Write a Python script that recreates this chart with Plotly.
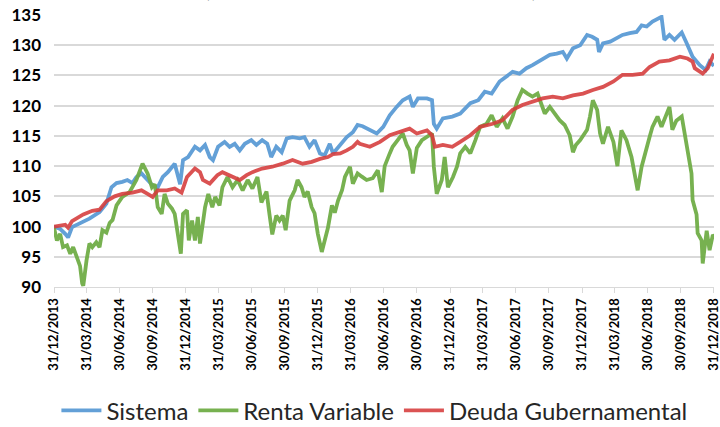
import plotly.graph_objects as go

# ---- Data ----
sistema_dates = [
    "2013-12-31", "2014-01-17", "2014-01-31", "2014-02-08", "2014-02-19", "2014-03-13", "2014-04-08",
    "2014-05-06", "2014-05-25", "2014-06-08", "2014-06-22", "2014-07-08", "2014-07-22", "2014-08-05",
    "2014-08-16", "2014-08-30", "2014-09-16", "2014-09-30", "2014-10-14", "2014-10-28", "2014-11-11",
    "2014-11-30", "2014-12-15", "2014-12-23", "2015-01-06", "2015-01-25", "2015-02-08", "2015-02-22",
    "2015-03-07", "2015-03-16", "2015-03-30", "2015-04-17", "2015-05-01", "2015-05-15", "2015-05-29",
    "2015-06-12", "2015-06-30", "2015-07-14", "2015-07-30", "2015-08-13", "2015-08-24", "2015-09-07",
    "2015-09-22", "2015-10-06", "2015-10-22", "2015-11-11", "2015-11-24", "2015-12-08", "2015-12-22",
    "2016-01-06", "2016-01-19", "2016-02-02", "2016-02-11", "2016-03-02", "2016-03-20", "2016-04-06",
    "2016-04-19", "2016-05-03", "2016-05-23", "2016-06-11", "2016-06-29", "2016-07-17", "2016-08-05",
    "2016-08-22", "2016-09-10", "2016-09-19", "2016-10-03", "2016-10-28", "2016-11-11", "2016-11-16",
    "2016-11-24", "2016-12-11", "2017-01-06", "2017-01-28", "2017-02-25", "2017-03-19", "2017-04-06",
    "2017-04-25", "2017-05-17", "2017-06-05", "2017-06-22", "2017-07-11", "2017-07-30", "2017-08-16",
    "2017-09-10", "2017-10-03", "2017-10-22", "2017-11-08", "2017-11-19", "2017-12-06", "2017-12-26",
    "2018-01-14", "2018-01-28", "2018-02-11", "2018-02-16", "2018-02-27", "2018-03-19", "2018-04-06",
    "2018-04-22", "2018-05-12", "2018-05-31", "2018-06-14", "2018-06-28", "2018-07-14", "2018-08-08",
    "2018-08-16", "2018-08-30", "2018-09-13", "2018-10-03", "2018-10-17", "2018-11-02", "2018-11-22",
    "2018-12-08", "2018-12-19", "2018-12-31",
]
sistema_values = [
    100.0, 99.6, 98.8, 98.2, 99.9, 100.6, 101.3,
    102.4, 103.8, 106.5, 107.2, 107.4, 107.7, 107.2,
    108.2, 108.8, 107.8, 106.8, 106.5, 108.2, 109.0,
    110.4, 107.0, 111.0, 111.5, 113.2, 112.6, 113.5,
    111.5, 111.0, 113.2, 114.0, 113.2, 113.7, 112.6,
    113.7, 114.3, 113.5, 114.3, 113.7, 111.5, 113.2,
    112.3, 114.6, 114.8, 114.6, 114.8, 113.2, 114.3,
    112.1, 111.8, 113.7, 112.1, 113.5, 114.8, 115.6,
    116.8, 116.6, 116.0, 115.4, 116.5, 118.4, 119.8,
    120.9, 121.5, 119.8, 121.2, 121.2, 120.9, 117.0,
    116.2, 117.9, 118.2, 118.7, 120.4, 120.9, 122.3,
    122.0, 124.0, 124.8, 125.6, 125.3, 126.2, 126.7,
    127.5, 128.4, 128.6, 128.9, 127.8, 129.5, 130.0,
    131.7, 131.4, 130.9, 128.9, 130.3, 130.6, 131.1,
    131.7, 132.0, 132.2, 133.3, 133.1, 133.9, 134.7,
    130.9, 131.7, 130.9, 132.1, 130.3, 128.1, 126.7,
    125.9, 127.3, 126.6,
]

renta_dates = [
    "2013-12-31", "2014-01-08", "2014-01-17", "2014-01-25", "2014-02-05", "2014-02-14", "2014-02-22",
    "2014-03-05", "2014-03-13", "2014-03-19", "2014-03-22", "2014-03-31", "2014-04-08", "2014-04-16",
    "2014-04-27", "2014-05-06", "2014-05-14", "2014-05-25", "2014-06-03", "2014-06-11", "2014-06-17",
    "2014-06-22", "2014-07-08", "2014-07-28", "2014-08-16", "2014-09-02", "2014-09-16", "2014-09-28",
    "2014-10-06", "2014-10-14", "2014-10-25", "2014-11-02", "2014-11-11", "2014-11-22", "2014-11-30",
    "2014-12-08", "2014-12-17", "2014-12-23", "2015-01-03", "2015-01-08", "2015-01-17", "2015-01-25",
    "2015-02-02", "2015-02-08", "2015-02-22", "2015-03-03", "2015-03-14", "2015-03-22", "2015-04-03",
    "2015-04-11", "2015-04-25", "2015-05-09", "2015-05-23", "2015-06-06", "2015-06-20", "2015-07-03",
    "2015-07-17", "2015-07-28", "2015-08-11", "2015-08-19", "2015-08-27", "2015-09-07", "2015-09-16",
    "2015-09-25", "2015-10-03", "2015-10-14", "2015-10-28", "2015-11-05", "2015-11-16", "2015-11-24",
    "2015-12-03", "2015-12-14", "2015-12-22", "2015-12-31", "2016-01-11", "2016-01-19", "2016-01-28",
    "2016-02-08", "2016-02-16", "2016-02-25", "2016-03-07", "2016-03-15", "2016-03-29", "2016-04-06",
    "2016-04-19", "2016-04-30", "2016-05-14", "2016-05-31", "2016-06-14", "2016-06-25", "2016-07-03",
    "2016-07-17", "2016-07-25", "2016-08-08", "2016-08-22", "2016-09-02", "2016-09-10", "2016-09-19",
    "2016-09-30", "2016-10-14", "2016-10-28", "2016-11-11", "2016-11-16", "2016-11-24", "2016-12-08",
    "2016-12-16", "2016-12-25", "2017-01-08", "2017-01-19", "2017-01-28", "2017-02-11", "2017-02-25",
    "2017-03-11", "2017-03-24", "2017-04-11", "2017-04-25", "2017-05-09", "2017-05-17", "2017-05-25",
    "2017-06-08", "2017-06-22", "2017-07-06", "2017-07-19", "2017-08-02", "2017-08-16", "2017-08-30",
    "2017-09-10", "2017-09-19", "2017-10-03", "2017-10-17", "2017-10-30", "2017-11-13", "2017-11-27",
    "2017-12-06", "2017-12-14", "2017-12-26", "2018-01-14", "2018-01-22", "2018-01-30", "2018-02-11",
    "2018-02-19", "2018-02-27", "2018-03-13", "2018-03-28", "2018-04-08", "2018-04-19", "2018-05-03",
    "2018-05-17", "2018-05-25", "2018-06-03", "2018-06-14", "2018-06-22", "2018-07-06", "2018-07-14",
    "2018-07-28", "2018-08-08", "2018-08-16", "2018-08-30", "2018-09-07", "2018-09-18", "2018-10-03",
    "2018-10-11", "2018-10-19", "2018-10-30", "2018-11-02", "2018-11-13", "2018-11-16", "2018-11-27",
    "2018-11-30", "2018-12-11", "2018-12-19", "2018-12-28", "2018-12-31",
]
renta_values = [
    99.8, 97.7, 98.8, 96.6, 96.9, 95.5, 96.6,
    94.8, 93.5, 90.6, 90.2, 94.4, 97.2, 96.6,
    97.4, 96.6, 99.4, 99.0, 100.6, 101.1, 102.5,
    103.5, 104.9, 105.7, 107.7, 110.4, 108.8, 106.5,
    107.0, 103.2, 102.1, 105.4, 103.8, 103.0, 102.1,
    99.4, 95.5, 102.1, 102.7, 97.7, 101.0, 97.7,
    101.6, 97.2, 103.2, 105.4, 103.2, 104.9, 103.5,
    106.5, 108.2, 106.5, 107.7, 106.0, 107.7, 106.3,
    108.2, 104.0, 105.8, 102.1, 98.7, 101.8, 101.0,
    101.8, 99.4, 104.3, 106.0, 107.7, 106.5, 104.9,
    105.8, 103.2, 102.2, 98.8, 95.8, 97.7, 99.8,
    103.5, 102.3, 104.3, 106.0, 108.2, 109.9, 107.1,
    108.8, 108.3, 107.7, 108.0, 109.3, 105.7, 110.0,
    112.1, 113.2, 114.3, 115.4, 113.5, 112.6, 108.8,
    113.0, 114.3, 114.8, 115.4, 109.9, 105.4, 107.7,
    111.5, 106.5, 108.2, 109.9, 112.1, 113.2, 112.1,
    114.3, 116.5, 117.0, 118.4, 116.5, 117.3, 117.9,
    116.2, 118.2, 120.9, 122.6, 122.0, 121.5, 122.0,
    120.4, 118.7, 119.8, 118.7, 117.6, 116.8, 115.1,
    112.3, 113.5, 114.3, 116.0, 118.2, 120.9, 119.3,
    115.4, 113.7, 116.5, 114.0, 110.0, 115.9, 114.3,
    111.5, 108.8, 106.0, 109.9, 111.5, 114.8, 116.5,
    118.2, 116.5, 117.6, 119.8, 116.0, 117.5, 118.2,
    115.4, 112.6, 108.8, 104.4, 102.0, 98.9, 97.7,
    93.9, 99.3, 96.1, 98.6, 98.4,
]

deuda_dates = [
    "2013-12-31", "2014-01-31", "2014-02-08", "2014-02-19", "2014-03-22", "2014-04-16", "2014-05-06",
    "2014-05-25", "2014-06-17", "2014-07-08", "2014-08-05", "2014-08-30", "2014-09-16", "2014-09-30",
    "2014-10-14", "2014-11-08", "2014-11-30", "2014-12-19", "2015-01-03", "2015-01-25", "2015-02-08",
    "2015-02-16", "2015-03-07", "2015-03-28", "2015-04-11", "2015-05-01", "2015-05-15", "2015-05-29",
    "2015-06-17", "2015-07-03", "2015-07-30", "2015-08-27", "2015-09-25", "2015-10-22", "2015-11-19",
    "2015-12-14", "2016-01-06", "2016-01-28", "2016-02-11", "2016-03-02", "2016-03-20", "2016-04-06",
    "2016-04-19", "2016-04-25", "2016-05-23", "2016-06-20", "2016-07-17", "2016-08-14", "2016-09-10",
    "2016-09-30", "2016-10-28", "2016-11-11", "2016-11-19", "2016-12-11", "2017-01-06", "2017-01-28",
    "2017-02-25", "2017-03-24", "2017-04-28", "2017-05-25", "2017-06-22", "2017-07-19", "2017-08-16",
    "2017-09-13", "2017-10-11", "2017-11-08", "2017-12-06", "2018-01-03", "2018-01-30", "2018-02-27",
    "2018-03-28", "2018-04-22", "2018-05-20", "2018-06-17", "2018-07-06", "2018-08-02", "2018-08-30",
    "2018-09-28", "2018-10-19", "2018-11-02", "2018-11-08", "2018-11-30", "2018-12-14", "2018-12-26",
    "2018-12-31",
]
deuda_values = [
    100.0, 100.3, 99.8, 100.9, 102.0, 102.6, 102.8,
    104.2, 105.0, 105.4, 105.6, 106.0, 105.4, 104.9,
    106.0, 106.0, 106.3, 105.6, 108.2, 109.6, 109.0,
    107.7, 107.1, 108.5, 109.0, 108.5, 108.2, 107.7,
    108.5, 109.0, 109.6, 109.9, 110.4, 111.0, 110.4,
    110.7, 111.2, 111.5, 112.0, 112.1, 112.6, 113.2,
    114.0, 113.7, 113.2, 114.0, 115.1, 115.7, 116.2,
    115.4, 115.9, 115.1, 113.2, 113.5, 113.2, 114.0,
    115.1, 116.5, 117.0, 117.6, 119.3, 120.1, 120.6,
    121.2, 121.5, 121.2, 121.7, 122.0, 122.6, 123.1,
    124.0, 125.1, 125.1, 125.3, 126.4, 127.3, 127.5,
    128.1, 127.8, 127.3, 126.2, 125.3, 126.2, 128.1,
    128.6,
]

tick_dates = [
    "2013-12-31", "2014-03-31", "2014-06-30", "2014-09-30", "2014-12-31",
    "2015-03-31", "2015-06-30", "2015-09-30", "2015-12-31",
    "2016-03-31", "2016-06-30", "2016-09-30", "2016-12-31",
    "2017-03-31", "2017-06-30", "2017-09-30", "2017-12-31",
    "2018-03-31", "2018-06-30", "2018-09-30", "2018-12-31",
]
tick_labels = [
    "31/12/2013", "31/03/2014", "30/06/2014", "30/09/2014", "31/12/2014",
    "31/03/2015", "30/06/2015", "30/09/2015", "31/12/2015",
    "31/03/2016", "30/06/2016", "30/09/2016", "31/12/2016",
    "31/03/2017", "30/06/2017", "30/09/2017", "31/12/2017",
    "31/03/2018", "30/06/2018", "30/09/2018", "31/12/2018",
]
y_ticks = [90, 95, 100, 105, 110, 115, 120, 125, 130, 135]

FONT = "Lato"

fig = go.Figure()
fig.add_trace(go.Scatter(x=sistema_dates, y=sistema_values, mode="lines", name="Sistema",
                         line=dict(color="#5B9BD5", width=3.8), opacity=0.95))
fig.add_trace(go.Scatter(x=renta_dates, y=renta_values, mode="lines", name="Renta Variable",
                         line=dict(color="#70AD47", width=3.8), opacity=0.95))
fig.add_trace(go.Scatter(x=deuda_dates, y=deuda_values, mode="lines", name="Deuda Gubernamental",
                         line=dict(color="#D63B3B", width=3.8), opacity=0.88))

fig.update_layout(
    width=720, height=427,
    margin=dict(l=54, r=6, t=15, b=140, autoexpand=False),
    paper_bgcolor="white", plot_bgcolor="white",
    showlegend=True,
    legend=dict(orientation="h", xref="container", yref="container", x=0.52, y=0.038,
                xanchor="center", yanchor="middle",
                font=dict(family=FONT, size=24, color="#262626"),
                itemwidth=40, tracegroupgap=0),
    annotations=[dict(text="(Índice base 100 = 31 de diciembre de 2013)", xref="paper", yref="paper",
                      x=0.48, y=1.039, xanchor="center", yanchor="bottom", showarrow=False,
                      font=dict(family=FONT, size=17, color="#262626"))],
)
fig.update_xaxes(
    type="date", range=["2013-12-31", "2018-12-31 06:00"], automargin=False,
    tickmode="array", tickvals=tick_dates, ticktext=tick_labels, tickangle=-90,
    tickfont=dict(family=FONT, size=13, color="#000000", weight="bold"),
    ticklabeloverflow="allow",
    ticks="outside", ticklen=5, tickcolor="#d9d9d9",
    showgrid=False, showline=True, linecolor="#d9d9d9", linewidth=1, zeroline=False,
)
fig.update_yaxes(
    range=[90, 135], tickmode="array", tickvals=y_ticks, automargin=False,
    tickfont=dict(family=FONT, size=17, color="#000000", weight="bold"),
    showgrid=True, gridcolor="#d9d9d9", gridwidth=1.5, zeroline=False, showline=False,
    ticks="", ticklabelstandoff=12,
)

fig.write_html("out.html", config={"displayModeBar": False},
               post_script="document.body.style.margin='0';document.body.style.overflow='hidden';")
